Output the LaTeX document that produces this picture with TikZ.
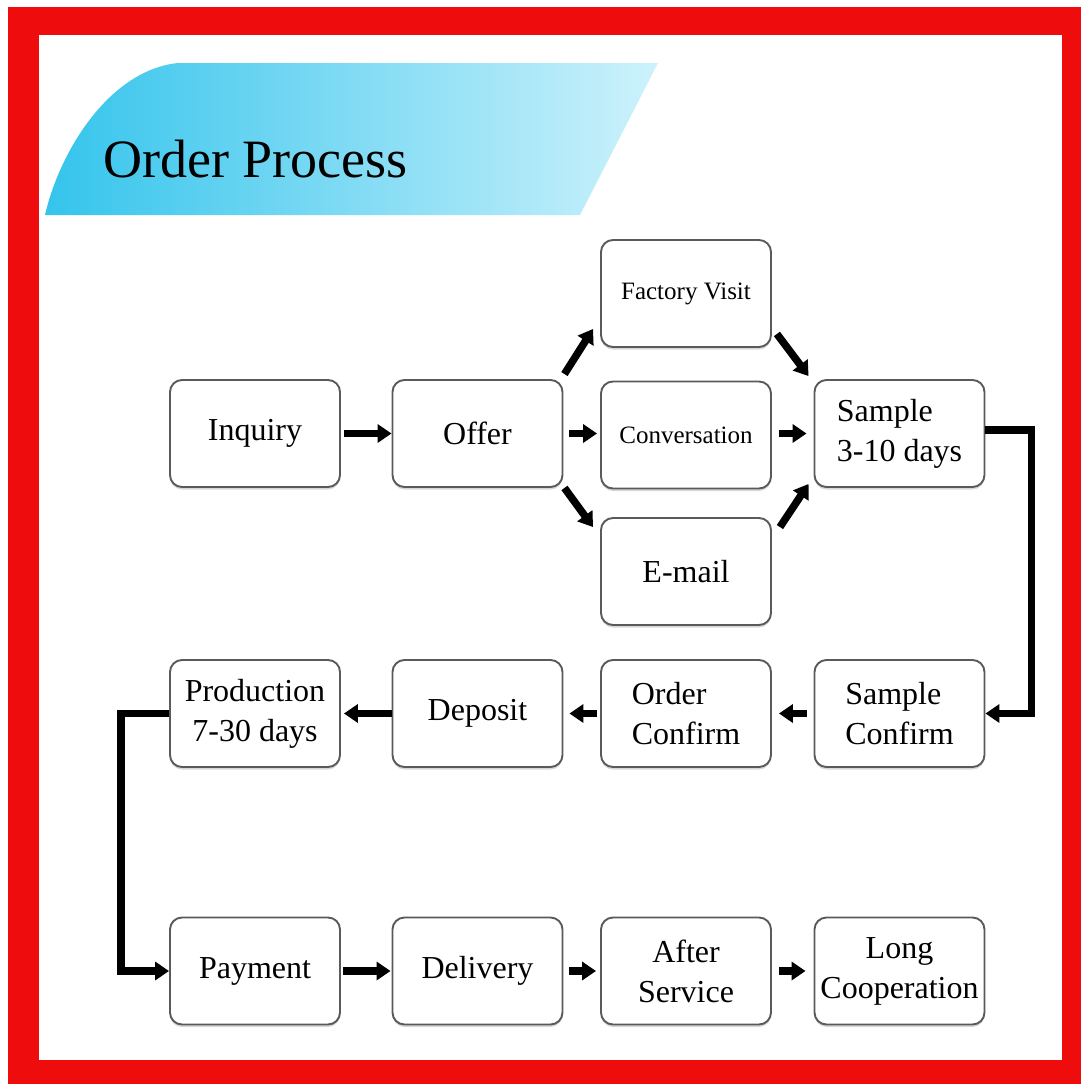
\documentclass[tikz,border=0pt]{standalone}
\usepackage{fontspec}
\setmainfont{Liberation Serif}
\usetikzlibrary{arrows.meta,shadows}
\definecolor{framered}{RGB}{238,12,12}
\definecolor{bandL}{RGB}{52,196,236}
\definecolor{bandR}{RGB}{205,242,252}
\definecolor{boxline}{RGB}{90,90,90}
\begin{document}
\begin{tikzpicture}[x=1pt,y=-1pt,
  box/.style={draw=boxline, line width=1.9pt, rounded corners=12pt, fill=white,
    minimum width=170pt, minimum height=107pt, inner sep=2pt, align=center,
    font=\fontsize{32}{40}\selectfont,
    drop shadow={shadow xshift=0pt, shadow yshift=-2.5pt, opacity=0.3}},
  smallbox/.style={box, font=\fontsize{25}{30}\selectfont},
  arr/.style={line width=7.5pt, line join=miter, -{Triangle[width=18pt,length=14pt]}},
]
\useasboundingbox (0,0) rectangle (1081,1084);
% frame
\fill[white] (0,0) rectangle (1081,1084);
\fill[framered] (8,7) rectangle (1081,1084);
\fill[white] (39,35) rectangle (1062,1060);
% title band
\shade[left color=bandL, right color=bandR]
  (45,215) .. controls (60,150) and (110,70) .. (178,63) -- (658,63) -- (580,215) -- cycle;
\node[anchor=base west, text=black, font=\fontsize{54}{60}\selectfont] (title) at (100,177) {Order Process};
% nodes
\node[box] (inq) at (255,433.5) {Inquiry};
\node[box] (off) at (477.5,433.5) {Offer};
\node[smallbox] (fv) at (686,293.5) {Factory Visit};
\node[smallbox] (conv) at (686,435) {Conversation};
\node[box] (em) at (686,571.5) {E-mail};
\node[box, align=left] (s1) at (899.5,433.5) {Sample\\3-10 days};
\node[box, align=left] (sc) at (899.5,713.5) {Sample\\Confirm};
\node[box, align=left] (oc) at (686,713.5) {Order\\Confirm};
\node[box] (dep) at (477.5,713.5) {Deposit};
\node[box] (prod) at (255,713.5) {Production\\7-30 days};
\node[box] (pay) at (255,971) {Payment};
\node[box] (del) at (477.5,971) {Delivery};
\node[box] (aft) at (686,971) {After\\Service};
\node[box] (lng) at (899.5,971) {Long\\Cooperation};
% connectors row 1
\draw[arr, shorten <=3pt] (inq) -- (off);
\draw[arr, shorten <=6pt, shorten >=3pt] (off) -- (conv.west |- off);
\draw[arr, shorten <=7pt, shorten >=7pt] (conv.east |- s1) -- (s1);
\draw[arr] ([shift={(1,-5)}]off.north east) -- ([shift={(-7,-19)}]fv.south west);
\draw[arr] ([shift={(5,-14)}]fv.south east) -- ([shift={(-5,-3)}]s1.north west);
\draw[arr] ([shift={(1,0)}]off.south east) -- ([shift={(-7,10)}]em.north west);
\draw[arr] ([shift={(8,10)}]em.north east) -- ([shift={(-5,-4)}]s1.south west);
% loop to row 2
\draw[arr] ([yshift=3.5pt]s1.east) -- ++(46,0) |- (sc.east);
% row 2
\draw[arr, shorten <=7pt, shorten >=7pt] (sc) -- (oc);
\draw[arr, shorten <=3pt, shorten >=6pt] (oc) -- (dep);
\draw[arr, shorten >=3pt] (dep) -- (prod);
% loop to row 3
\draw[arr] (prod.west) -- ++(-48,0) |- (pay.west);
% row 3
\draw[arr, shorten <=2pt, shorten >=1pt] (pay) -- (del);
\draw[arr, shorten <=6pt, shorten >=4pt] (del) -- (aft);
\draw[arr, shorten <=7pt, shorten >=8pt] (aft) -- (lng);
\end{tikzpicture}
\end{document}
